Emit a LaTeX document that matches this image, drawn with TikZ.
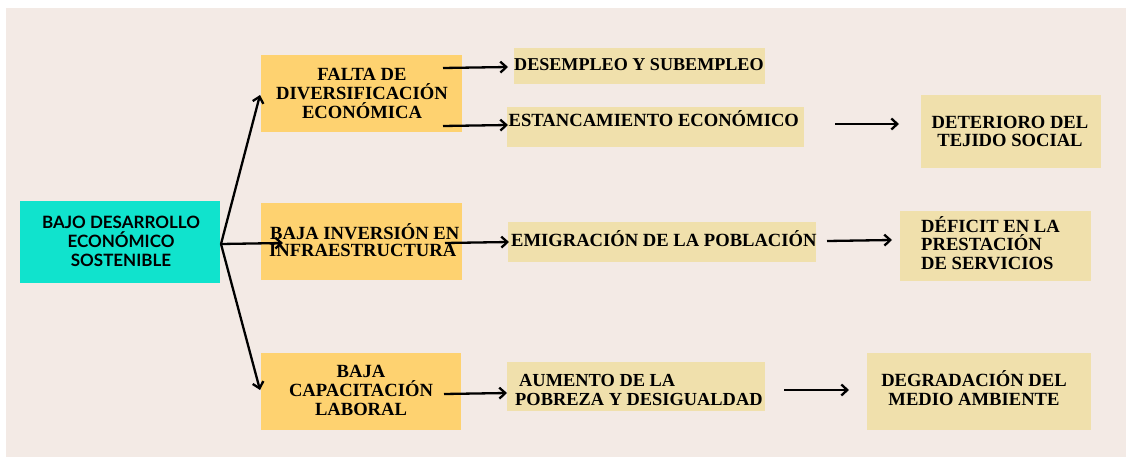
\documentclass[tikz,border=0pt]{standalone}
\usepackage{fontspec}
\setmainfont{Liberation Serif}
\newfontfamily\lato{Lato}
\usetikzlibrary{arrows.meta}
\definecolor{bgc}{HTML}{F3EAE5}
\definecolor{tealc}{HTML}{10E3CD}
\definecolor{orangec}{HTML}{FED270}
\definecolor{lightc}{HTML}{F0E0AC}
\tikzset{
  box/.style={rectangle, draw=none, inner sep=0pt},
  tealbox/.style={box, fill=tealc},
  obox/.style={box, fill=orangec},
  lbox/.style={box, fill=lightc},
  ser/.style={inner sep=0pt, font=\bfseries\fontsize{18.6}{19}\selectfont},
  san/.style={inner sep=0pt, align=center, font=\lato\bfseries\fontsize{17}{19}\selectfont},
  arr/.style={line width=2.3pt, -{Straight Barb[length=6pt,width=11pt,line width=2.3pt]}}
}
\begin{document}
\begin{tikzpicture}[x=1pt,y=-1pt]
\useasboundingbox (0,0) rectangle (1127,457);
\fill[white] (0,0) rectangle (1127,457);
\fill[bgc] (6,8) rectangle (1126,457);

% boxes
\node[tealbox, minimum width=200, minimum height=82] (root) at (120,242) {};
\node[obox, minimum width=201, minimum height=77] (f1) at (361.5,93.5) {};
\node[obox, minimum width=201, minimum height=77] (f2) at (361.5,241.5) {};
\node[obox, minimum width=200, minimum height=77] (f3) at (361,391.5) {};
\node[lbox, minimum width=251, minimum height=36] (d1) at (639.5,66) {};
\node[lbox, minimum width=297, minimum height=40] (d2) at (655.5,127) {};
\node[lbox, minimum width=308, minimum height=40] (d3) at (662,242) {};
\node[lbox, minimum width=258, minimum height=49] (d4) at (636,386.5) {};
\node[lbox, minimum width=180, minimum height=73] (e1) at (1011,131.5) {};
\node[lbox, minimum width=191, minimum height=70] (e2) at (995.5,246) {};
\node[lbox, minimum width=224, minimum height=77] (e3) at (979,391.5) {};

% texts (multi-line: base = baseline of last line)
\node[san, anchor=base] (troot) at (121,266) {BAJO DESARROLLO\\ECONÓMICO\\SOSTENIBLE};
\node[ser, align=center, anchor=base] (tf1) at (362,118.3) {FALTA DE\\DIVERSIFICACIÓN\\ECONÓMICA};
\node[ser, align=left, anchor=base west, font=\bfseries\fontsize{18.6}{17.5}\selectfont] (tf2) at (269,256.7) {\hspace{1pt}BAJA INVERSIÓN EN\\INFRAESTRUCTURA};
\node[ser, align=center, anchor=base, font=\bfseries\fontsize{18.6}{18.75}\selectfont] (tf3) at (361,415) {BAJA\\CAPACITACIÓN\\LABORAL};
\node[ser, anchor=base west, font=\bfseries\fontsize{18.1}{19}\selectfont] (td1) at (514,70.5) {DESEMPLEO Y SUBEMPLEO};
\node[ser, anchor=base west] (td2) at (508.5,127) {ESTANCAMIENTO ECONÓMICO};
\node[ser, anchor=base west] (td3) at (511,246.5) {EMIGRACIÓN DE LA POBLACIÓN};
\node[ser, align=left, anchor=base west, font=\bfseries\fontsize{18.4}{18.5}\selectfont] (td4) at (515,405) {\hspace{4pt}AUMENTO DE LA\\POBREZA Y DESIGUALDAD};
\node[ser, align=center, anchor=base, font=\bfseries\fontsize{18.6}{17.5}\selectfont] (te1) at (1010,146.5) {DETERIORO DEL\\TEJIDO SOCIAL};
\node[ser, align=left, anchor=base west, font=\bfseries\fontsize{18.6}{18.6}\selectfont] (te2) at (921,269.3) {DÉFICIT EN LA\\PRESTACIÓN\\DE SERVICIOS};
\node[ser, align=center, anchor=base, font=\bfseries\fontsize{18.6}{19}\selectfont] (te3) at (974,405.7) {DEGRADACIÓN DEL\\MEDIO AMBIENTE};

% connector end points
\coordinate (rs) at (221,244);
\coordinate (f1t) at (260,95);
\coordinate (f2t) at (283,243);
\coordinate (f3t) at (260,390);
\coordinate (f1s1) at (443,68);
\coordinate (d1t) at (508,67);
\coordinate (f1s2) at (443,126);
\coordinate (d2t) at (508,125);
\coordinate (f2s) at (445,243);
\coordinate (d3t) at (509,242);
\coordinate (f3s) at (444,394);
\coordinate (d4t) at (507,393);
\coordinate (d2s) at (835,124);
\coordinate (e1t) at (899,124);
\coordinate (d3s) at (827,241);
\coordinate (e2t) at (892,240);
\coordinate (d4s) at (784,390);
\coordinate (e3t) at (849,390);

% connectors
\draw[arr] (rs) -- (f1t);
\draw[arr] (rs) -- (f2t);
\draw[arr] (rs) -- (f3t);
\draw[arr] (f1s1) -- (d1t);
\draw[arr] (f1s2) -- (d2t);
\draw[arr] (f2s) -- (d3t);
\draw[arr] (f3s) -- (d4t);
\draw[arr] (d2s) -- (e1t);
\draw[arr] (d3s) -- (e2t);
\draw[arr] (d4s) -- (e3t);
\end{tikzpicture}
\end{document}
